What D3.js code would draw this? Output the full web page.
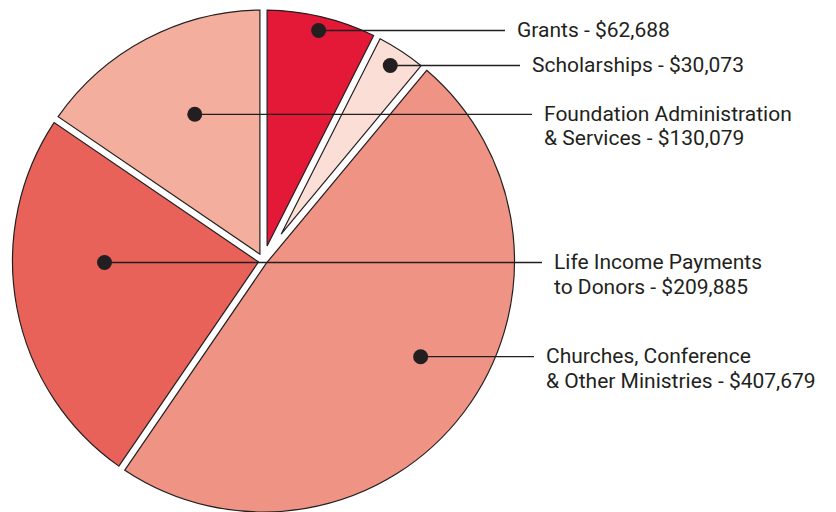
<!DOCTYPE html>
<html>
<head>
    <script src="https://d3js.org/d3.v7.min.js"></script>
    <style>
        body {
            margin: 0;
            background: #fff;
        }
        .slice {
            stroke: #231f20;
            stroke-width: 1.2;
        }
        .leader {
            stroke: #231f20;
            stroke-width: 1.3;
        }
        .dot {
            fill: #231f20;
        }
        .label {
            font-family: "Liberation Sans Narrow", "Roboto", sans-serif;
            font-size: 21px;
            fill: #231f20;
        }
    </style>
</head>
<body>
    <div id="chart"></div>
    <script>
        // Data, in drawing order (clockwise from 12 o'clock)
        const categories = ["Grants", "Scholarships", "Churches, Conference & Other Ministries",
                            "Life Income Payments to Donors", "Foundation Administration & Services"];
        const amounts = [62688, 30073, 407679, 209885, 130079];
        const labelLines = [
            ["Grants - $62,688"],
            ["Scholarships - $30,073"],
            ["Churches, Conference", "& Other Ministries - $407,679"],
            ["Life Income Payments", "to Donors - $209,885"],
            ["Foundation Administration", "& Services - $130,079"]
        ];
        const colors = ["#e31937", "#fbdfd6", "#ef9384", "#e9625a", "#f4ae9e"];

        // Callout layout: leader line height, dot distance from centre, line end x
        const leaderY = [30.5, 65.5, 356.7, 262.5, 114.3];
        const dotDist = [237, 233, 184, 159, 162];
        const leaderEnd = [505, 520, 534, 542, 532];

        const width = 836, height = 512;
        const cx = 263.5, cy = 261, R = 251;
        const gap = 3.6;   // half width of the white gap between slices

        const svg = d3.select("#chart").append("svg")
            .attr("width", width)
            .attr("height", height);

        const g = svg.append("g")
            .attr("transform", `translate(${cx},${cy})`);

        const pie = d3.pie().sort(null).value(d => d);
        const arcs = pie(amounts);

        // inner radius chosen so the padded edges stay parallel to the original ones
        const arc = d3.arc()
            .outerRadius(R)
            .innerRadius(d => gap / Math.sin((d.endAngle - d.startAngle) / 2))
            .padRadius(R)
            .padAngle(2 * Math.asin(gap / R));

        g.selectAll(".slice")
            .data(arcs)
            .enter()
            .append("path")
            .attr("class", "slice")
            .attr("d", arc)
            .attr("fill", (d, i) => colors[i]);

        // Callouts
        arcs.forEach((d, i) => {
            const y = leaderY[i] - cy;
            const mid = (d.startAngle + d.endAngle) / 2;
            const side = Math.sin(mid) >= 0 ? 1 : -1;
            const x = side * Math.sqrt(dotDist[i] * dotDist[i] - y * y);

            g.append("line")
                .attr("class", "leader")
                .attr("x1", x)
                .attr("y1", y)
                .attr("x2", leaderEnd[i] - cx)
                .attr("y2", y);

            g.append("circle")
                .attr("class", "dot")
                .attr("cx", x)
                .attr("cy", y)
                .attr("r", 7.5);

            const text = g.append("text")
                .attr("class", "label")
                .attr("x", leaderEnd[i] - cx + 12)
                .attr("y", y + 6.5);

            text.selectAll("tspan")
                .data(labelLines[i])
                .enter()
                .append("tspan")
                .attr("x", leaderEnd[i] - cx + 12)
                .attr("dy", (t, j) => j === 0 ? 0 : 24.5)
                .text(t => t);
        });
    </script>
</body>
</html>
